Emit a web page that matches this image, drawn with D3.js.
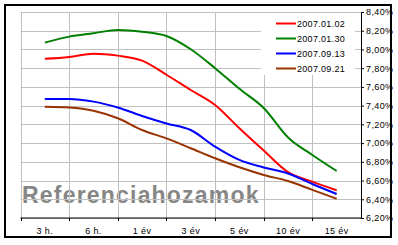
<!DOCTYPE html>
<html>
<head>
<meta charset="utf-8">
<script src="https://cdn.jsdelivr.net/npm/d3@7"></script>
<style>
  body { margin: 0; background: #fff; }
  svg text { font-family: "Liberation Sans", Arial, sans-serif; }
</style>
</head>
<body>
<div id="chart"></div>
<script>
const categories = ['3 h.', '6 h.', '1 év', '3 év', '5 év', '10 év', '15 év'];
// positions along the category axis (0 = first category centre)
const steps = [0, 0.5, 1, 1.5, 2, 2.5, 3, 3.5, 4, 4.5, 5, 5.5, 6];
const yTicks = [6.2, 6.4, 6.6, 6.8, 7.0, 7.2, 7.4, 7.6, 7.8, 8.0, 8.2, 8.4];

const s20070102 = [7.90, 7.92, 7.955, 7.934, 7.88, 7.73, 7.567, 7.407, 7.158, 6.92, 6.69, 6.588, 6.496];
const s20070130 = [8.073, 8.137, 8.173, 8.209, 8.19, 8.144, 8.002, 7.80, 7.58, 7.375, 7.06, 6.873, 6.702];
const s20070913 = [7.471, 7.471, 7.443, 7.38, 7.29, 7.21, 7.14, 6.962, 6.82, 6.74, 6.676, 6.563, 6.456];
const s20070921 = [7.389, 7.38, 7.346, 7.265, 7.14, 7.05, 6.945, 6.838, 6.742, 6.66, 6.595, 6.5, 6.406];

const series = [
  { name: '2007.01.02', color: '#ff0000', values: s20070102 },
  { name: '2007.01.30', color: '#008000', values: s20070130 },
  { name: '2007.09.13', color: '#0000ff', values: s20070913 },
  { name: '2007.09.21', color: '#993300', values: s20070921 }
];

const w = 398, h = 245;
const plotL = 20.5, plotR = 361, plotT = 12, plotB = 218;

const svg = d3.select('#chart').append('svg')
  .attr('width', w)
  .attr('height', h);

const xBand = d3.scaleBand().domain(categories).range([plotL, plotR]);
const bw = xBand.bandwidth();
const xScale = d3.scaleLinear()
  .domain([0, categories.length - 1])
  .range([xBand(categories[0]) + bw / 2, xBand(categories[categories.length - 1]) + bw / 2]);
const yScale = d3.scaleLinear().domain([6.2, 8.4]).range([plotB, plotT]);

// watermark (behind grid)
svg.append('text')
  .attr('x', 22)
  .attr('y', 203)
  .attr('fill', '#868686')
  .attr('font-size', 23)
  .attr('font-weight', 'bold')
  .attr('letter-spacing', 1.2)
  .text('Referenciahozamok');

// grid
svg.append('g')
  .selectAll('line')
  .data(yTicks)
  .join('line')
  .attr('x1', plotL).attr('x2', plotR)
  .attr('y1', d => Math.round(yScale(d)) + 0.5)
  .attr('y2', d => Math.round(yScale(d)) + 0.5)
  .attr('stroke', '#c0c0c0');

svg.append('g')
  .selectAll('line')
  .data(categories)
  .join('line')
  .attr('x1', d => Math.round(xBand(d)) + 0.5)
  .attr('x2', d => Math.round(xBand(d)) + 0.5)
  .attr('y1', plotT).attr('y2', plotB)
  .attr('stroke', '#c0c0c0');

// legend box
const lg = svg.append('g');
lg.append('rect')
  .attr('x', 261).attr('y', 13)
  .attr('width', 94).attr('height', 62)
  .attr('fill', '#fff');

// lines
const line = d3.line()
  .x((d, i) => xScale(steps[i]))
  .y(d => yScale(d))
  .curve(d3.curveMonotoneX);

svg.append('g')
  .selectAll('path')
  .data(series)
  .join('path')
  .attr('d', d => line(d.values))
  .attr('fill', 'none')
  .attr('stroke', d => d.color)
  .attr('stroke-width', 2);

// legend entries
const items = lg.selectAll('g.item')
  .data(series)
  .join('g')
  .attr('class', 'item')
  .attr('transform', (d, i) => `translate(276, ${23.5 + i * 15})`);
items.append('line')
  .attr('x1', 0).attr('x2', 20)
  .attr('stroke', d => d.color)
  .attr('stroke-width', 2);
items.append('text')
  .attr('x', 21).attr('y', 3.5)
  .attr('font-size', 9)
  .attr('letter-spacing', 0.3)
  .text(d => d.name);

// right axis
const yAxis = d3.axisRight(yScale)
  .tickValues(yTicks)
  .tickSize(3)
  .tickPadding(2)
  .tickFormat(d => d.toFixed(2).replace('.', ',') + '%');

const ya = svg.append('g')
  .attr('transform', `translate(${plotR},0)`)
  .call(yAxis);
ya.selectAll('text').attr('font-size', 9).attr('letter-spacing', 0.4).attr('fill', '#000');

// bottom axis
const xa = svg.append('g')
  .attr('transform', `translate(0,${plotB})`);
xa.append('line')
  .attr('x1', plotL).attr('x2', plotR)
  .attr('stroke', '#000');
xa.selectAll('line.tk')
  .data(categories)
  .join('line')
  .attr('class', 'tk')
  .attr('x1', d => Math.round(xBand(d)) + 0.5)
  .attr('x2', d => Math.round(xBand(d)) + 0.5)
  .attr('y1', 0).attr('y2', 3)
  .attr('stroke', '#000');
xa.selectAll('text')
  .data(categories)
  .join('text')
  .attr('x', d => xBand(d) + bw / 2)
  .attr('y', 16)
  .attr('text-anchor', 'middle')
  .attr('font-size', 9)
  .attr('letter-spacing', 0.4)
  .text(d => d);

// outer border
svg.append('rect')
  .attr('x', 5).attr('y', 5)
  .attr('width', 386).attr('height', 232)
  .attr('fill', 'none')
  .attr('stroke', '#000')
  .attr('stroke-width', 2);
</script>
</body>
</html>
